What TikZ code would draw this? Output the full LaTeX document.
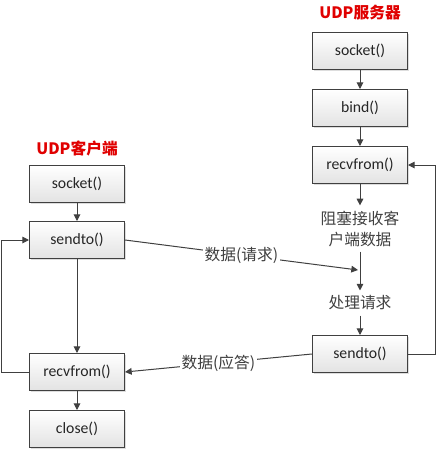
\documentclass[tikz,border=0pt]{standalone}
\usepackage{fontspec}
\setmainfont{Carlito}
\newfontfamily\cjk{Noto Sans CJK SC}
\usepackage{tikz}
\usetikzlibrary{arrows.meta, shadows, positioning}
\definecolor{linegray}{HTML}{404040}
\definecolor{titlered}{HTML}{E00000}
\tikzstyle{box} = [rectangle, draw=linegray, line width=0.75pt, minimum width=71.25pt, minimum height=27.75pt, top color=white, bottom color=gray!22, drop shadow={shadow xshift=0.9pt, shadow yshift=-0.9pt, fill=gray!45, opacity=0.6}, font=\fontsize{11.8}{14}\selectfont, text=black!85]
\tikzstyle{note} = [align=center, inner sep=3.75pt, font=\cjk\fontsize{11.8}{15.75}\selectfont, text=linegray]
\tikzstyle{msg} = [fill=white, inner sep=1pt, font=\cjk\fontsize{11.8}{14}\selectfont, text=linegray]
\tikzstyle{title} = [font=\cjk\bfseries\fontsize{11.8}{14}\selectfont, text=titlered]
\tikzstyle{arrow} = [draw=linegray, line width=0.75pt, -{Triangle[length=5pt,width=5pt]}]
\begin{document}
\begin{tikzpicture}[x=0.75pt, y=-0.75pt]
    \useasboundingbox (0,0) rectangle (437,451);
    % client
    \node (ctitle) [title] at (77,148) {UDP客户端};
    \node (csocket) [box] at (77,184) {socket()};
    \node (csendto) [box] at (77,240) {sendto()};
    \node (crecvfrom) [box] at (77,372) {recvfrom()};
    \node (cclose) [box] at (77,429) {close()};

    % server
    \node (stitle) [title] at (360,13) {UDP服务器};
    \node (ssocket) [box] at (360,51) {socket()};
    \node (sbind) [box] at (360,108) {bind()};
    \node (srecvfrom) [box] at (360,165) {recvfrom()};
    \node (swait) [note] at (360,228.5) {阻塞接收客\\户端数据};
    \node (sproc) [note] at (360,303) {处理请求};
    \node (ssendto) [box] at (360,354) {sendto()};
    \coordinate (sin) at (358,270);

    \draw [arrow] (csocket) -- (csendto);
    \draw [arrow] (csendto) -- (crecvfrom);
    \draw [arrow] (crecvfrom) -- (cclose);
    \draw [arrow] (crecvfrom.west) -- ++(-27.5,0) |- (csendto.west);

    \draw [arrow] (ssocket) -- (sbind);
    \draw [arrow] (sbind) -- (srecvfrom);
    \draw [arrow] (srecvfrom) -- (swait);
    \draw [arrow] (swait) -- (sproc);
    \draw [arrow] (sproc) -- (ssendto);
    \draw [arrow] (ssendto.east) -- ++(27.5,0) |- (srecvfrom.east);

    \draw [arrow] (csendto.east) -- node [msg] {数据(请求)} (sin);
    \draw [arrow] (ssendto.west) -- node [msg] {数据(应答)} (crecvfrom.east);
\end{tikzpicture}
\end{document}
